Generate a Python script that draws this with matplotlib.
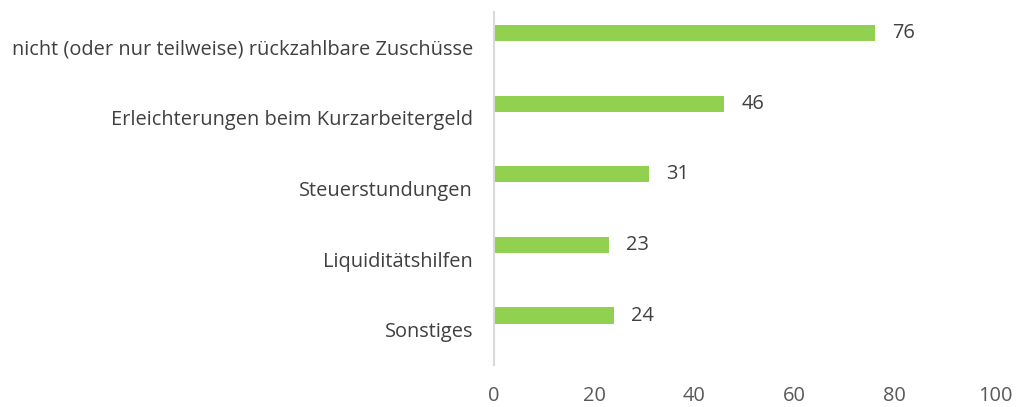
import matplotlib
matplotlib.use("Agg")
import matplotlib.pyplot as plt

categories = ["nicht (oder nur teilweise) rückzahlbare Zuschüsse",
              "Erleichterungen beim Kurzarbeitergeld",
              "Steuerstundungen",
              "Liquiditätshilfen",
              "Sonstiges"]
values = [76, 46, 31, 23, 24]
xticks = [0, 20, 40, 60, 80, 100]

plt.rcParams['font.family'] = ['Open Sans', 'DejaVu Sans']

W, H = 1016, 407
fig = plt.figure(figsize=(W / 100, H / 100), dpi=100)
left, right = 494 / W, 995 / W
top, bottom = 1 - 12 / H, 1 - 365 / H
ax = fig.add_axes([left, bottom, right - left, top - bottom])

ypos = list(range(len(categories)))
bar_offset = -0.2
bar_y = [y + bar_offset for y in ypos]
ax.barh(bar_y, values, height=0.23, color="#92D050")
ax.set_ylim(4.5, -0.5)
ax.set_xlim(0, 100)

FS = 14.4
for y, v in zip(bar_y, values):
    ax.annotate(str(v), (v, y), xytext=(17, 0), textcoords="offset pixels",
                va="center", ha="left", fontsize=FS, color="#404040")

ax.set_yticks(ypos)
ax.set_yticklabels(categories, fontsize=FS, color="#404040")
ax.set_xticks(xticks)
ax.set_xticklabels([str(t) for t in xticks], fontsize=FS, color="#595959")
ax.tick_params(axis="y", length=0, pad=15)
ax.tick_params(axis="x", length=0, pad=15)

for s in ["top", "right", "bottom"]:
    ax.spines[s].set_visible(False)
ax.spines["left"].set_color("#D9D9D9")
ax.spines["left"].set_linewidth(1.5)

fig.savefig("out.png", dpi=100)
